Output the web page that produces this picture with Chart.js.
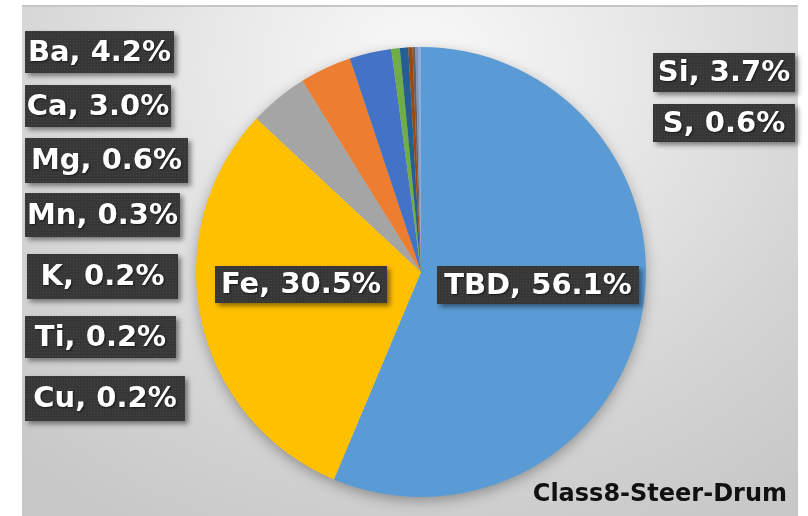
<!DOCTYPE html>
<html>
<head>
<meta charset="utf-8">
<script src="https://cdn.jsdelivr.net/npm/chart.js@4.4.1/dist/chart.umd.min.js"></script>
<style>
    html, body { margin: 0; padding: 0; background: #ffffff; }
    #wrap { position: relative; width: 808px; height: 516px; overflow: hidden; }
    #panel {
        position: absolute; left: 22px; top: 5px; width: 776px; height: 511px;
        border-top: 2px solid #c6c6c6;
        box-sizing: border-box;
        background: radial-gradient(ellipse 600px 520px at 400px 60px, #f9f9f9 0%, #e8e8e8 35%, #d4d4d4 72%, #c8c8c8 100%);
    }
    #chartCanvas { position: absolute; left: 0; top: 0; }
</style>
</head>
<body>
<div id="wrap">
    <div id="panel"></div>
    <canvas id="chartCanvas" width="808" height="516"></canvas>
</div>
<script>
// Composición del tambor
const elements = ["TBD", "Fe", "Ba", "Si", "Ca", "Mg", "S", "Mn", "K", "Ti", "Cu"];
const percents = [56.1, 30.5, 4.2, 3.7, 3.0, 0.6, 0.6, 0.3, 0.2, 0.2, 0.2];
const sliceColors = [
    "#5B9BD5", // TBD
    "#FFC000", // Fe
    "#A5A5A5", // Ba
    "#ED7D31", // Si
    "#4472C4", // Ca
    "#70AD47", // Mg
    "#255E91", // S
    "#9E480E", // Mn
    "#636363", // K
    "#7F94B8", // Ti
    "#8FAADC"  // Cu
];
const chartName = "Class8-Steer-Drum";

// cajas de las etiquetas [x, y, ancho, alto], en el orden de elements
const labelBoxes = [
    [437, 266, 202, 38],
    [215, 266, 172, 37],
    [25, 31, 149, 42],
    [653, 53, 142, 39],
    [25, 85, 146, 42],
    [25, 138, 163, 45],
    [653, 104, 142, 38],
    [25, 193, 155, 44],
    [27, 254, 151, 45],
    [25, 316, 151, 42],
    [25, 376, 160, 45]
];

document.addEventListener("DOMContentLoaded", function () {
    const ctx = document.getElementById("chartCanvas").getContext("2d");

    // textura punteada del fondo de las etiquetas
    const tile = document.createElement("canvas");
    tile.width = 3;
    tile.height = 3;
    const tctx = tile.getContext("2d");
    tctx.fillStyle = "#373737";
    tctx.fillRect(0, 0, 3, 3);
    tctx.fillStyle = "#474747";
    tctx.fillRect(1, 1, 1, 1);
    const boxPattern = ctx.createPattern(tile, "repeat");

    // sombra suave debajo del pastel
    const pieShadow = {
        id: "pieShadow",
        beforeDatasetsDraw(chart) {
            const arc = chart.getDatasetMeta(0).data[0];
            if (!arc) return;
            const c = chart.ctx;
            c.save();
            c.shadowColor = "rgba(0, 0, 0, 0.35)";
            c.shadowBlur = 14;
            c.shadowOffsetY = 4;
            c.fillStyle = "#bdbdbd";
            c.beginPath();
            c.arc(arc.x, arc.y, arc.outerRadius - 1, 0, Math.PI * 2);
            c.fill();
            c.restore();
        }
    };

    // etiquetas "Elemento, x.x%" y nombre del tambor
    const dataLabels = {
        id: "dataLabels",
        afterDatasetsDraw(chart) {
            const c = chart.ctx;
            const values = chart.data.datasets[0].data;
            c.save();
            c.font = "bold 29px 'DejaVu Sans'";
            c.textAlign = "center";
            c.textBaseline = "middle";
            values.forEach((v, i) => {
                const [x, y, w, h] = labelBoxes[i];
                c.save();
                c.shadowColor = "rgba(0, 0, 0, 0.45)";
                c.shadowBlur = 5;
                c.shadowOffsetX = 3;
                c.shadowOffsetY = 3;
                c.fillStyle = boxPattern;
                c.fillRect(x, y, w, h);
                c.restore();

                c.save();
                c.shadowColor = "rgba(0, 0, 0, 0.6)";
                c.shadowBlur = 2;
                c.shadowOffsetX = 1;
                c.shadowOffsetY = 1;
                c.fillStyle = "#ffffff";
                c.fillText(`${chart.data.labels[i]}, ${v.toFixed(1)}%`, x + w / 2, y + h / 2 + 1);
                c.restore();
            });

            c.font = "bold 24px 'DejaVu Sans'";
            c.textAlign = "right";
            c.textBaseline = "alphabetic";
            c.fillStyle = "#111111";
            c.fillText(chartName, 787, 501);
            c.restore();
        }
    };

    new Chart(ctx, {
        type: "pie",
        data: {
            labels: elements,
            datasets: [{
                data: percents,
                backgroundColor: sliceColors,
                borderWidth: 0,
                hoverOffset: 0,
                offset: 0
            }]
        },
        options: {
            responsive: false,
            animation: false,
            events: [],
            rotation: 0,
            layout: {
                padding: { left: 196, right: 162, top: 47, bottom: 19 }
            },
            plugins: {
                legend: { display: false },
                tooltip: { enabled: false }
            }
        },
        plugins: [pieShadow, dataLabels]
    });
});
</script>
</body>
</html>
